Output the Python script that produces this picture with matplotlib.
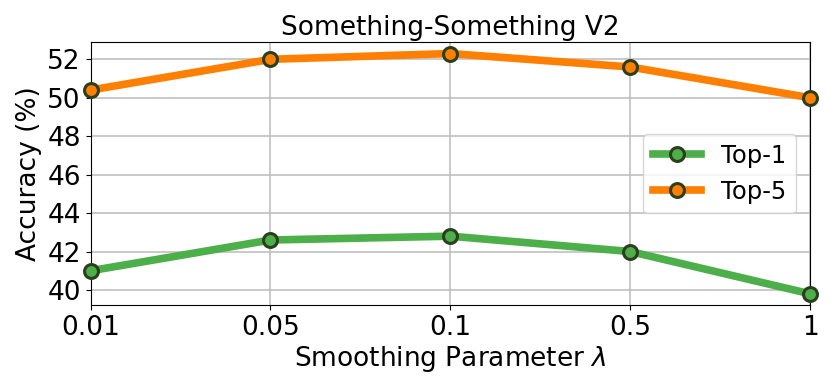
import matplotlib

matplotlib.use("Agg")
import matplotlib.pyplot as plt

lambdas = ["0.01", "0.05", "0.1", "0.5", "1"]
top1 = [41.0, 42.6, 42.8, 42.0, 39.8]
top5 = [50.4, 52.0, 52.3, 51.6, 50.0]

fig, ax = plt.subplots(figsize=(8.31, 3.89), dpi=100)
xs = list(range(len(lambdas)))
edge = "#2b3f1c"
ax.plot(xs, top1, color="#4daf4a", lw=5.5, marker="o", ms=10, mec=edge, mew=2.2,
        label="Top-1", clip_on=False, zorder=3)
ax.plot(xs, top5, color="#ff7f00", lw=5.5, marker="o", ms=10, mec=edge, mew=2.2,
        label="Top-5", clip_on=False, zorder=3)

ax.set_xlim(0, len(lambdas) - 1)
ax.set_ylim(39.2, 52.9)
ax.set_xticks(xs)
ax.set_xticklabels(lambdas)
ax.set_yticks(range(40, 53, 2))
ax.tick_params(labelsize=19)
ax.grid(True, color="#c0c0c0", lw=1.2)
ax.set_axisbelow(True)
ax.set_xlabel(r"Smoothing Parameter $\lambda$", fontsize=19, labelpad=2)
ax.set_ylabel("Accuracy (%)", fontsize=19, labelpad=4)
ax.set_title("Something-Something V2", fontsize=19, pad=5)
ax.legend(fontsize=17.5, loc="center right", handlelength=2.0,
          bbox_to_anchor=(1.0, 0.5), borderaxespad=0.6)

fig.subplots_adjust(left=0.109, right=0.975, top=0.892, bottom=0.215)
fig.savefig("out.png", dpi=100)
